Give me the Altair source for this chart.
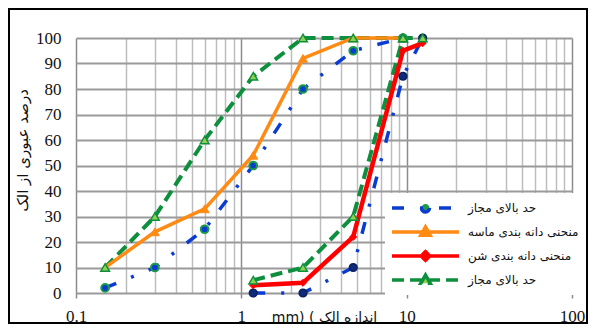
import altair as alt
import pandas as pd

# ---- data ----
sand_sieve = [0.15, 0.3, 0.6, 1.18, 2.36, 4.75, 9.5]
sand_lower = [2, 10, 25, 50, 80, 95, 100]
sand_curve = [10, 24, 33, 54, 92, 100, 100]
sand_upper = [10, 30, 60, 85, 100, 100, 100]

gravel_sieve = [1.18, 2.36, 4.75, 9.5, 12.5]
gravel_lower = [0, 0, 10, 85, 100]
gravel_curve = [3, 4, 22, 95, 98]
gravel_upper = [5, 10, 30, 100, 100]

legend_keys = ["lower", "sand", "gravel", "upper"]
legend_labels = ["حد بالای مجاز", "منحنی دانه بندی ماسه", "منحنی دانه بندی شن", "حد بالای مجاز"]

x_label_values = [0.1, 1, 10, 100]
x_grid = [round(m * 10.0 ** e, 4) for e in (-1, 0, 1) for m in range(1, 10)] + [100]
y_ticks = list(range(0, 101, 10))

x_title = "mm) ( اندازه الک"
y_title = "درصد عبوری از الک"

# ---- styles ----
BLUE = "#0a3cd2"
NAVY = "#0f2a78"
ORANGE = "#ff8a14"
RED = "#ff0000"
GREEN = "#0e8f3e"
LGREEN = "#8fd14f"

series = [
    ("lower_sand", "lower", sand_sieve, sand_lower),
    ("lower_gravel", "lower", gravel_sieve, gravel_lower),
    ("sand", "sand", sand_sieve, sand_curve),
    ("gravel", "gravel", gravel_sieve, gravel_curve),
    ("upper_sand", "upper", sand_sieve, sand_upper),
    ("upper_gravel", "upper", gravel_sieve, gravel_upper),
]
rows = []
for key, entry, xs, ys in series:
    for xv, yv in zip(xs, ys):
        rows.append({"key": key, "entry": entry, "size": xv, "pct": yv})
df = pd.DataFrame(rows)

decade = "abs(log(datum.value)/LN10 - round(log(datum.value)/LN10)) < 0.001"

x_enc = alt.X(
    "size:Q",
    scale=alt.Scale(type="log", domain=[0.1, 100]),
    axis=alt.Axis(
        values=x_grid,
        grid=True,
        gridColor={"condition": {"test": decade, "value": "#8c8c8c"}, "value": "#bdbdbd"},
        gridWidth=1.5,
        domain=False,
        ticks=True,
        tickSize=5,
        tickColor="#8c8c8c",
        tickWidth=1.5,
        tickOpacity={"condition": {"test": decade, "value": 1}, "value": 0},
        labelExpr=decade + " ? format(datum.value, '~g') : ''",
        labelFont="Liberation Serif",
        labelFontSize=17,
        labelColor="#111111",
        labelPadding=10,
        labelFlush=False,
        labelOverlap=False,
        title=x_title,
        titleFont="DejaVu Sans",
        titleFontSize=14,
        titleFontWeight="normal",
        titleColor="#111111",
        titleX=248,
        titleY=28,
        titleBaseline="alphabetic",
        titleAlign="center",
    ),
)
y_enc = alt.Y(
    "pct:Q",
    scale=alt.Scale(domain=[0, 100]),
    axis=alt.Axis(
        values=y_ticks,
        grid=True,
        gridColor="#9a9a9a",
        gridWidth=1.8,
        domain=False,
        ticks=False,
        labelFont="Liberation Serif",
        labelFontSize=17,
        labelColor="#111111",
        labelPadding=15,
        title=y_title,
        titleFont="DejaVu Sans",
        titleFontSize=15,
        titleFontWeight="normal",
        titleColor="#111111",
        titleX=-54,
        titleY=112,
        titleAngle=270,
        titleBaseline="middle",
        titleAlign="center",
    ),
)


def line(key, color, width, dash=None):
    kw = dict(color=color, strokeWidth=width)
    if dash:
        kw["strokeDash"] = dash
    return (
        alt.Chart(df)
        .transform_filter(alt.datum.key == key)
        .mark_line(**kw)
        .encode(x=x_enc, y=y_enc, order="size:Q")
    )


def points(key, shape, size, fill, stroke, sw):
    return (
        alt.Chart(df)
        .transform_filter(alt.datum.key == key)
        .mark_point(shape=shape, size=size, filled=True, fill=fill, stroke=stroke,
                    strokeWidth=sw, opacity=1, fillOpacity=1)
        .encode(x=x_enc, y=y_enc)
    )


blue_dash = [12, 16, 3, 16]
green_dash = [12, 6]

layers = [
    line("lower_sand", BLUE, 3.5, blue_dash),
    line("lower_gravel", BLUE, 3.5, blue_dash),
    line("upper_sand", GREEN, 4, green_dash),
    line("upper_gravel", GREEN, 4, green_dash),
    line("sand", ORANGE, 3.5),
    line("gravel", RED, 4.5),
    points("lower_sand", "circle", 60, BLUE, "#1b9a48", 2),
    points("lower_gravel", "circle", 60, NAVY, "#0a1f5e", 1.5),
    points("sand", "triangle-up", 80, ORANGE, ORANGE, 1),
    points("gravel", "diamond", 50, RED, RED, 1),
    points("upper_sand", "triangle-up", 75, LGREEN, GREEN, 1.5),
    points("upper_gravel", "triangle-up", 75, LGREEN, GREEN, 1.5),
]

# ---- legend (built from the scales, on an empty layer) ----
line_path = "M-1,0H1"
paths = [
    line_path + "M0.12,0A0.12,0.12 0 1,1 -0.12,0A0.12,0.12 0 1,1 0.12,0Z",
    line_path + "M0,-0.15L0.14,0.1L-0.14,0.1Z",
    line_path + "M0,-0.13L0.13,0L0,0.13L-0.13,0Z",
    line_path + "M0,-0.15L0.14,0.1L-0.14,0.1Z",
]
label_expr = " : ".join(
    f"datum.label == '{k}' ? '{l}'" for k, l in zip(legend_keys, legend_labels)
) + " : ''"

leg = alt.Legend(
    orient="none", legendX=309, legendY=155, title=None, fillColor="white",
    padding=5, symbolSize=4489, symbolStrokeWidth=3.5, clipHeight=20, rowPadding=4,
    labelOffset=7, labelFont="DejaVu Sans", labelFontSize=12, labelColor="#111111",
    labelExpr=label_expr, symbolOpacity=1, labelLimit=200,
)
legend_layer = (
    alt.Chart(df)
    .transform_filter("false")
    .mark_point(size=4489, opacity=1, fillOpacity=1, filled=False)
    .encode(
        x=x_enc, y=y_enc,
        stroke=alt.Stroke("entry:N", scale=alt.Scale(domain=legend_keys, range=[BLUE, ORANGE, RED, GREEN]), legend=leg),
        fill=alt.Fill("entry:N", scale=alt.Scale(domain=legend_keys, range=["#1b9a48", ORANGE, RED, LGREEN]), legend=leg),
        shape=alt.Shape("entry:N", scale=alt.Scale(domain=legend_keys, range=paths), legend=leg),
        strokeDash=alt.StrokeDash("entry:N", scale=alt.Scale(domain=legend_keys, range=[blue_dash, [1, 0], [1, 0], green_dash]), legend=leg),
    )
)

frame = (
    alt.Chart(pd.DataFrame({"frame": [1]}))
    .mark_rect(fill="transparent", stroke="black", strokeWidth=2)
    .encode(x=alt.value(-67), x2=alt.value(511), y=alt.value(-29), y2=alt.value(285))
)

chart = (
    alt.layer(*layers, legend_layer, frame)
    .properties(
        width=496, height=255,
        autosize=alt.AutoSizeParams(type="none"),
        padding={"left": 68, "top": 30, "right": 16, "bottom": 31},
        background="white",
    )
    .configure_view(stroke=None)
)

chart.save("out.html", embed_options={"renderer": "svg", "actions": False})
